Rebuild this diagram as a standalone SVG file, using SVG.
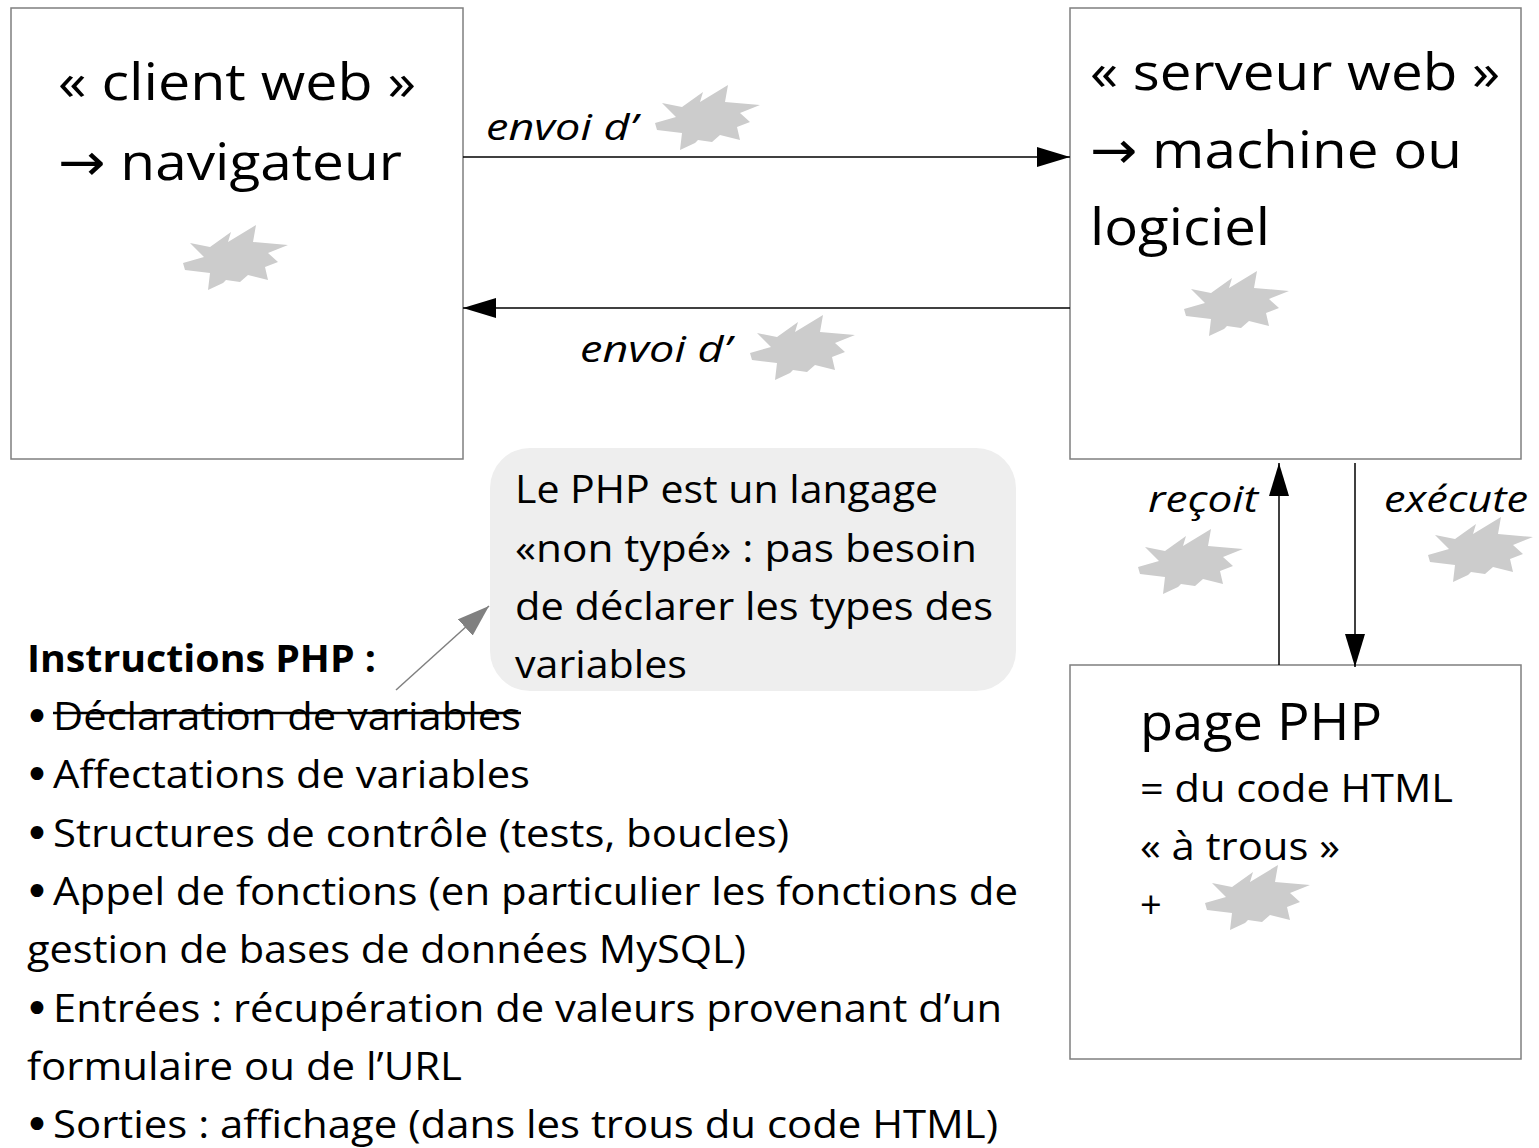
<svg xmlns="http://www.w3.org/2000/svg" xmlns:xlink="http://www.w3.org/1999/xlink" width="1539" height="1148" viewBox="0 0 1539 1148">
  <style>
    .box { fill: #ffffff; stroke: #7f7f7f; stroke-width: 1.5; }
    .note { fill: #eeeeee; stroke: none; }
    .burst { fill: #cccccc; }
    .t { font-family: "Open Sans", "Noto Sans", sans-serif; fill: #000000; }
    .sym { font-family: "DejaVu Sans", sans-serif; }
    .big { font-size: 52px; }
    .mid { font-size: 38px; }
    .dot { font-size: 44px; }
    .lbl { font-size: 36px; font-style: italic; }
    .bold { font-weight: bold; }
    .wire { stroke: #000000; stroke-width: 1.5; fill: none; }
    .ptr { stroke: #808080; stroke-width: 1.5; fill: none; }
  </style>
  <defs>
    <marker id="arrow" viewBox="0 0 33 20" refX="33" refY="10" markerWidth="33" markerHeight="20" markerUnits="userSpaceOnUse" orient="auto">
      <path d="M0,0 L33,10 L0,20 Z" fill="#000000"/>
    </marker>
    <marker id="arrowGray" viewBox="0 0 32 22" refX="32" refY="11" markerWidth="32" markerHeight="22" markerUnits="userSpaceOnUse" orient="auto">
      <path d="M0,0 L32,11 L0,22 Z" fill="#808080"/>
    </marker>
    <!-- grey "explosion" placeholder used for the blanks -->
    <path id="star" class="burst" d="M15,43 L36,37 L22,23 L42,27 L63,12 L60,22 L88,5 L85,22 L120,25 L100,33 L110,42 L97,47 L100,60 L80,55 L72,62 L58,60 L55,63 L40,70 L42,53 L17,50 Z"/>
  </defs>

  <g id="client">
    <rect class="box" x="11" y="8" width="452" height="451"/>
    <text class="t big" x="58" y="100" textLength="358" lengthAdjust="spacingAndGlyphs">« client web »</text>
    <text class="t big" x="58" y="180" textLength="344" lengthAdjust="spacingAndGlyphs"><tspan class="sym">→</tspan> navigateur</text>
    <use xlink:href="#star" href="#star" transform="translate(168,220)"/>
  </g>

  <g id="serveur">
    <rect class="box" x="1070" y="8" width="451" height="451"/>
    <text class="t big" x="1090" y="90" textLength="410" lengthAdjust="spacingAndGlyphs">« serveur web »</text>
    <text class="t big" x="1090" y="168" textLength="372" lengthAdjust="spacingAndGlyphs"><tspan class="sym">→</tspan> machine ou</text>
    <text class="t big" x="1090" y="245" textLength="180" lengthAdjust="spacingAndGlyphs">logiciel</text>
    <use xlink:href="#star" href="#star" transform="translate(1169,266)"/>
  </g>

  <g id="page-php">
    <rect class="box" x="1070" y="665" width="451" height="394"/>
    <text class="t big" x="1140" y="740" textLength="242" lengthAdjust="spacingAndGlyphs">page PHP</text>
    <text class="t mid" x="1140" y="802" textLength="313" lengthAdjust="spacingAndGlyphs">= du code HTML</text>
    <text class="t mid" x="1140" y="860" textLength="200" lengthAdjust="spacingAndGlyphs">« à trous »</text>
    <text class="t mid" x="1140" y="918">+</text>
    <use xlink:href="#star" href="#star" transform="translate(1190,860)"/>
  </g>

  <g id="note">
    <rect class="note" x="490" y="448" width="526" height="243" rx="40" ry="40"/>
    <text class="t mid" x="515" y="503" textLength="423" lengthAdjust="spacingAndGlyphs">Le PHP est un langage</text>
    <text class="t mid" x="515" y="562" textLength="462" lengthAdjust="spacingAndGlyphs">«non typé» : pas besoin</text>
    <text class="t mid" x="515" y="620" textLength="478" lengthAdjust="spacingAndGlyphs">de déclarer les types des</text>
    <text class="t mid" x="515" y="678" textLength="172" lengthAdjust="spacingAndGlyphs">variables</text>
  </g>

  <g id="instructions">
    <text class="t mid bold" x="27" y="672" textLength="349" lengthAdjust="spacingAndGlyphs">Instructions PHP :</text>
    <g class="t sym dot">
      <text x="24" y="732">•</text>
      <text x="24" y="790">•</text>
      <text x="24" y="849">•</text>
      <text x="24" y="907">•</text>
      <text x="24" y="1024">•</text>
      <text x="24" y="1140">•</text>
    </g>
    <text class="t mid" x="53" y="730" textLength="468" lengthAdjust="spacingAndGlyphs">Déclaration de variables</text>
    <line x1="53" y1="713" x2="521" y2="713" stroke="#000000" stroke-width="2.5"/>
    <text class="t mid" x="53" y="788" textLength="477" lengthAdjust="spacingAndGlyphs">Affectations de variables</text>
    <text class="t mid" x="53" y="847" textLength="736" lengthAdjust="spacingAndGlyphs">Structures de contrôle (tests, boucles)</text>
    <text class="t mid" x="53" y="905" textLength="965" lengthAdjust="spacingAndGlyphs">Appel de fonctions (en particulier les fonctions de</text>
    <text class="t mid" x="27" y="963" textLength="719" lengthAdjust="spacingAndGlyphs">gestion de bases de données MySQL)</text>
    <text class="t mid" x="53" y="1022" textLength="949" lengthAdjust="spacingAndGlyphs">Entrées : récupération de valeurs provenant d’un</text>
    <text class="t mid" x="27" y="1080" textLength="435" lengthAdjust="spacingAndGlyphs">formulaire ou de l’URL</text>
    <text class="t mid" x="53" y="1138" textLength="945" lengthAdjust="spacingAndGlyphs">Sorties : affichage (dans les trous du code HTML)</text>
  </g>

  <g id="connectors">
    <line class="wire" x1="463" y1="157" x2="1070" y2="157" marker-end="url(#arrow)"/>
    <line class="wire" x1="1070" y1="308" x2="463" y2="308" marker-end="url(#arrow)"/>
    <line class="wire" x1="1279" y1="665" x2="1279" y2="463" marker-end="url(#arrow)"/>
    <line class="wire" x1="1355" y1="463" x2="1355" y2="667" marker-end="url(#arrow)"/>
    <line class="ptr" x1="396" y1="690" x2="489" y2="606" marker-end="url(#arrowGray)"/>
  </g>

  <g id="labels">
    <text class="t lbl" x="486" y="140" textLength="151" lengthAdjust="spacingAndGlyphs">envoi d’</text>
    <use xlink:href="#star" href="#star" transform="translate(640,80)"/>
    <text class="t lbl" x="580" y="362" textLength="151" lengthAdjust="spacingAndGlyphs">envoi d’</text>
    <use xlink:href="#star" href="#star" transform="translate(735,310)"/>
    <text class="t lbl" x="1148" y="512" textLength="110" lengthAdjust="spacingAndGlyphs">reçoit</text>
    <use xlink:href="#star" href="#star" transform="translate(1123,524)"/>
    <text class="t lbl" x="1384" y="512" textLength="144" lengthAdjust="spacingAndGlyphs">exécute</text>
    <use xlink:href="#star" href="#star" transform="translate(1413,512)"/>
  </g>
</svg>
